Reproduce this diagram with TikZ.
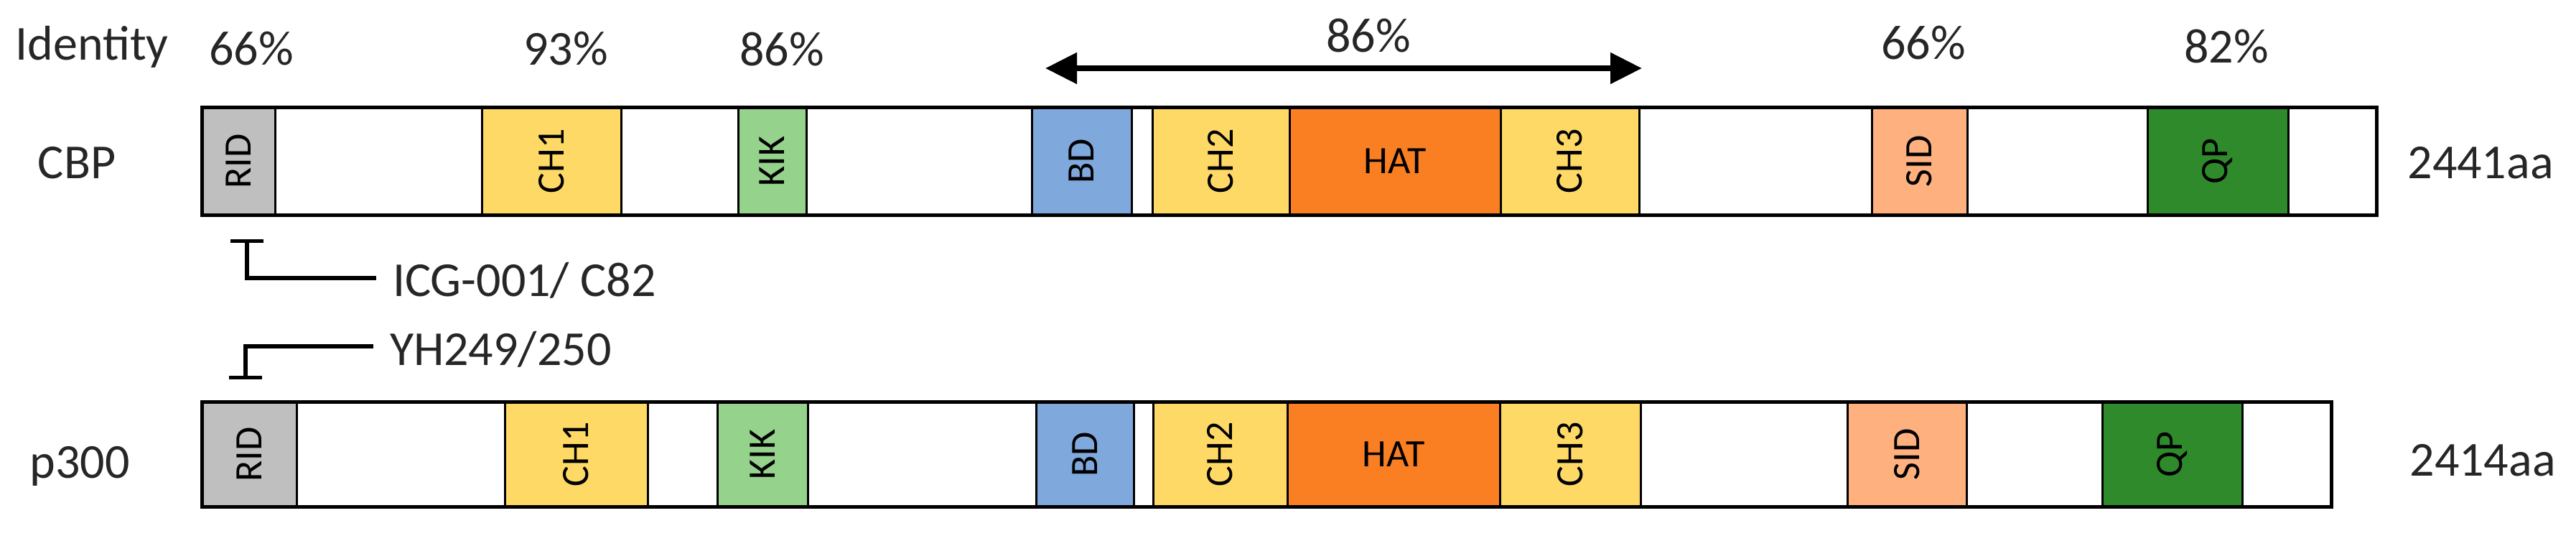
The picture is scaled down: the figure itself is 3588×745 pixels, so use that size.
\documentclass[tikz,border=0pt]{standalone}
\usepackage{fontspec}
\setmainfont{Carlito}
\usetikzlibrary{arrows.meta}
\definecolor{ridc}{HTML}{BFBFBF}
\definecolor{chc}{HTML}{FFD966}
\definecolor{kikc}{HTML}{95D28C}
\definecolor{bdc}{HTML}{7FA8DD}
\definecolor{hatc}{HTML}{FA7F22}
\definecolor{sidc}{HTML}{FFB07F}
\definecolor{qpc}{HTML}{2F8A2B}
\tikzset{
  lbl/.style={inner sep=0pt, outer sep=0pt, font=\fontsize{68}{80}\selectfont, text=black!85},
  dom/.style={draw=black, line width=3pt, inner sep=0pt, outer sep=0pt, font=\fontsize{54}{60}\selectfont},
  barbox/.style={draw=black, line width=5pt, inner sep=0pt, outer sep=0pt},
  dblarrow/.style={line width=8pt, {Triangle[length=44pt,width=42pt]}-{Triangle[length=44pt,width=42pt]}},
  inhib/.style={line width=6.5pt, -{Bar[width=46pt,line width=5pt]}}
}
\newcommand\dom[7]{\node[dom,fill=#6,minimum width={(#3-#2)*1pt},minimum height=#5pt] (#1) at ({(#2+#3)/2},#4) {#7};}
\begin{document}
\begin{tikzpicture}[x=1pt,y=-1pt]
\useasboundingbox (0,0) rectangle (3588,745);
% header labels
\node[lbl, anchor=base] (ident) at (128,83) {Identity};
\node[lbl, anchor=base] (p1) at (350,90) {66\%};
\node[lbl, anchor=base] (p2) at (788,90) {93\%};
\node[lbl, anchor=base] (p3) at (1089,91) {86\%};
\node[lbl, anchor=base] (p4) at (1906,72) {86\%};
\node[lbl, anchor=base] (p5) at (2679,82) {66\%};
\node[lbl, anchor=base] (p6) at (3101,87) {82\%};
\coordinate (al) at (1456,95);
\coordinate (ar) at (2287,95);
\draw[dblarrow] (al) -- (ar);
% CBP
\node[lbl, anchor=base] (cbplbl) at (107,248) {CBP};
\dom{cRID}{281}{383}{224.5}{150}{ridc}{\rotatebox{90}{RID}}
\dom{cCH1}{671}{865}{224.5}{150}{chc}{\rotatebox{90}{CH1}}
\dom{cKIK}{1028}{1123}{224.5}{150}{kikc}{\rotatebox{90}{KIK}}
\dom{cBD}{1437}{1576}{224.5}{150}{bdc}{\rotatebox{90}{BD}}
\dom{cCH2}{1605}{1796}{224.5}{150}{chc}{\rotatebox{90}{CH2}}
\dom{cHAT}{1796}{2090}{224.5}{150}{hatc}{HAT}
\dom{cCH3}{2090}{2283}{224.5}{150}{chc}{\rotatebox{90}{CH3}}
\dom{cSID}{2607}{2740}{224.5}{150}{sidc}{\rotatebox{90}{SID}}
\dom{cQP}{2991}{3187}{224.5}{150}{qpc}{\rotatebox{90}{QP}}
\node[barbox, minimum width=3029pt, minimum height=150pt] (cbp) at (1796,224.5) {};
\node[lbl, anchor=base] (cbplen) at (3455,248) {2441aa};
% inhibitors
\node[lbl, anchor=base west] (icg) at (547,412) {ICG-001/ C82};
\coordinate (h1) at (524,387);
\coordinate (t1) at (344,333);
\draw[inhib] (h1) -| (t1);
\node[lbl, anchor=base west] (yh) at (543,508) {YH249/250};
\coordinate (h2) at (520,482);
\coordinate (t2) at (342,528);
\draw[inhib] (h2) -| (t2);
% p300
\node[lbl, anchor=base] (p300lbl) at (111,665) {p300};
\dom{pRID}{281}{413}{632.5}{146}{ridc}{\rotatebox{90}{RID}}
\dom{pCH1}{703}{902}{632.5}{146}{chc}{\rotatebox{90}{CH1}}
\dom{pKIK}{999}{1125}{632.5}{146}{kikc}{\rotatebox{90}{KIK}}
\dom{pBD}{1443}{1579}{632.5}{146}{bdc}{\rotatebox{90}{BD}}
\dom{pCH2}{1606}{1793}{632.5}{146}{chc}{\rotatebox{90}{CH2}}
\dom{pHAT}{1793}{2089}{632.5}{146}{hatc}{HAT}
\dom{pCH3}{2089}{2285}{632.5}{146}{chc}{\rotatebox{90}{CH3}}
\dom{pSID}{2573}{2739}{632.5}{146}{sidc}{\rotatebox{90}{SID}}
\dom{pQP}{2928}{3123}{632.5}{146}{qpc}{\rotatebox{90}{QP}}
\node[barbox, minimum width=2966pt, minimum height=146pt] (p300) at (1764.5,632.5) {};
\node[lbl, anchor=base] (p300len) at (3458,662) {2414aa};
\end{tikzpicture}
\end{document}
